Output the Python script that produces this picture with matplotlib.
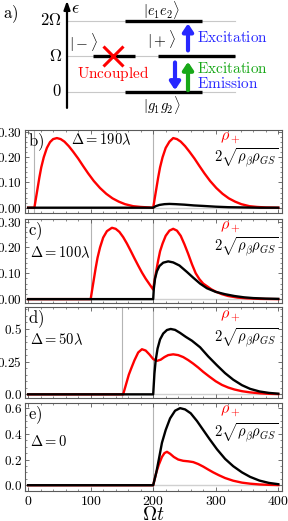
import matplotlib
matplotlib.use("Agg")
import matplotlib.pyplot as plt
from matplotlib.ticker import FixedLocator, MultipleLocator, FixedFormatter

plt.rcParams['mathtext.fontset'] = 'cm'
plt.rcParams['font.family'] = 'DejaVu Serif'

RED = '#ff0000'
BLUE = '#2828ff'
GREEN = '#18a818'
FRAME = '#5a5a5a'
GUIDE = '#b4b4b4'

# ---- data ----
t_switch = 200
deltas = [190, 100, 50, 0]
delta_labels = [r'$\Delta = 190\lambda$', r'$\Delta = 100\lambda$', r'$\Delta = 50\lambda$', r'$\Delta = 0$']
panel_letters = ['b)', 'c)', 'd)', 'e)']

# b) Delta = 190 lambda
t_b_red = [0, 10, 12, 15, 18, 21, 25, 30, 35, 40, 46, 52, 58, 65, 72, 80, 88, 96, 105, 115, 125, 135, 145, 155, 168, 180, 200,
           202, 205, 208, 211, 215, 220, 226, 232, 238, 244, 251, 258, 266, 274, 282, 291, 301, 311, 321, 331, 341, 354, 366, 380, 400]
v_b_red = [0, 0, 0.03, 0.075, 0.12, 0.16, 0.2, 0.237, 0.26, 0.272, 0.276, 0.272, 0.262, 0.244, 0.222, 0.195, 0.165, 0.136, 0.106, 0.078, 0.055, 0.037, 0.024, 0.014, 0.006, 0.003, 0.0,
           0.03, 0.075, 0.12, 0.16, 0.2, 0.237, 0.262, 0.276, 0.272, 0.262, 0.244, 0.222, 0.195, 0.165, 0.136, 0.106, 0.078, 0.055, 0.037, 0.024, 0.014, 0.006, 0.003, 0.001, 0.0]
t_b_blk = [0, 200, 204, 210, 218, 226, 236, 250, 265, 280, 300, 320, 345, 370, 400]
v_b_blk = [0, 0, 0.006, 0.011, 0.014, 0.015, 0.014, 0.012, 0.009, 0.007, 0.004, 0.002, 0.001, 0, 0]

# c) Delta = 100 lambda
t_c_red = [0, 100, 102, 105, 108, 111, 115, 120, 126, 134, 140, 146, 152, 158, 164, 170, 176, 182, 188, 194, 200,
           202, 205, 208, 211, 215, 220, 226, 232, 238, 244, 250, 256, 262, 268, 274, 280, 286, 293, 300, 310, 320, 335, 350, 370, 400]
v_c_red = [0, 0, 0.03, 0.075, 0.12, 0.16, 0.2, 0.238, 0.263, 0.276, 0.272, 0.26, 0.24, 0.215, 0.187, 0.158, 0.13, 0.103, 0.079, 0.058, 0.037,
           0.07, 0.11, 0.15, 0.185, 0.215, 0.245, 0.265, 0.272, 0.265, 0.245, 0.212, 0.175, 0.135, 0.1, 0.077, 0.06, 0.05, 0.038, 0.029, 0.019, 0.012, 0.006, 0.003, 0.001, 0]
t_c_blk = [0, 200, 201, 203, 206, 210, 216, 224, 232, 242, 254, 264, 275, 286, 300, 315, 330, 345, 360, 380, 400]
v_c_blk = [0, 0, 0.04, 0.08, 0.108, 0.128, 0.141, 0.146, 0.142, 0.13, 0.105, 0.083, 0.06, 0.042, 0.028, 0.019, 0.012, 0.007, 0.004, 0.002, 0.001]

# d) Delta = 50 lambda
t_d_red = [0, 152, 155, 158, 161, 165, 170, 176, 182, 188, 194, 200, 206, 212, 218, 224, 232, 240, 248, 256, 264, 272, 280, 290,
           300, 310, 320, 330, 342, 355, 370, 385, 400]
v_d_red = [0, 0, 0.05, 0.1, 0.15, 0.2, 0.26, 0.32, 0.345, 0.335, 0.305, 0.27, 0.256, 0.265, 0.285, 0.3, 0.306, 0.3, 0.285, 0.262, 0.235, 0.205, 0.172, 0.135,
           0.1, 0.072, 0.052, 0.037, 0.024, 0.015, 0.008, 0.004, 0.002]
t_d_blk = [0, 200, 201, 202, 204, 207, 211, 216, 222, 228, 235, 243, 252, 262, 275, 288, 302, 315, 328, 342, 355, 370, 385, 400]
v_d_blk = [0, 0, 0.08, 0.16, 0.26, 0.35, 0.42, 0.465, 0.492, 0.5, 0.493, 0.47, 0.44, 0.41, 0.36, 0.29, 0.222, 0.162, 0.112, 0.07, 0.042, 0.022, 0.011, 0.005]

# e) Delta = 0
t_e_red = [0, 200, 202, 205, 209, 214, 218, 222, 227, 233, 240, 248, 256, 264, 272, 280, 288, 296, 305, 315, 328, 342, 355, 370, 385, 400]
v_e_red = [0, 0, 0.04, 0.1, 0.16, 0.22, 0.25, 0.26, 0.245, 0.22, 0.2, 0.19, 0.186, 0.18, 0.165, 0.145, 0.122, 0.1, 0.078, 0.056, 0.035, 0.02, 0.012, 0.006, 0.003, 0.001]
t_e_blk = [0, 200, 202, 205, 209, 214, 220, 227, 235, 243, 251, 260, 270, 280, 290, 302, 315, 328, 342, 355, 370, 385, 400]
v_e_blk = [0, 0, 0.04, 0.1, 0.2, 0.33, 0.43, 0.52, 0.58, 0.6, 0.59, 0.56, 0.5, 0.43, 0.36, 0.28, 0.205, 0.148, 0.1, 0.065, 0.036, 0.018, 0.008]

red_curves = [(t_b_red, v_b_red), (t_c_red, v_c_red), (t_d_red, v_d_red), (t_e_red, v_e_red)]
black_curves = [(t_b_blk, v_b_blk), (t_c_blk, v_c_blk), (t_d_blk, v_d_blk), (t_e_blk, v_e_blk)]

y_ticks = [[0, 0.1, 0.2, 0.3], [0, 0.1, 0.2, 0.3], [0, 0.25, 0.5], [0, 0.2, 0.4, 0.6]]
y_ticklabels = [['0.00', '0.10', '0.20', '0.30'], ['0.00', '0.10', '0.20', '0.30'], ['0.0', '0.25', '0.5'], ['0.0', '0.2', '0.4', '0.6']]
y_limits = [(-0.021, 0.308), (-0.015, 0.31), (-0.028, 0.668), (-0.045, 0.64)]
y_minor = [0.02, 0.02, 0.05, 0.05]
x_ticks = [0, 100, 200, 300, 400]

# energy diagram (units of Omega)
level_energies = [2, 1, 1, 0]
level_spans = [(125, 202), (93, 135), (158, 235), (125, 202)]
level_labels = [r'$|e_1e_2\rangle$', r'$|-\rangle$', r'$|+\rangle$', r'$|g_1g_2\rangle$']
energy_ticks = [0, 1, 2]
energy_ticklabels = [r'$0$', r'$\Omega$', r'$2\Omega$']

W, H = 288, 521
fig = plt.figure(figsize=(W / 100, H / 100), dpi=100)


def rect(top, bottom, left=25, right=282):
    return [left / W, 1 - bottom / H, (right - left) / W, (bottom - top) / H]


# ---------- panel a ----------
ax = fig.add_axes([0, 1 - 115 / H, 1, 115 / H])
ax.set_xlim(0, W)
ax.set_ylim(-0.65, 2.59)
ax.axis('off')

for e, lab in zip(energy_ticks, energy_ticklabels):
    ax.plot([67, 235], [e, e], color='#c8c8c8', lw=0.8, zorder=1)
    ax.text(62, e, lab, ha='right', va='center', fontsize=12)
ax.annotate('', xy=(67, 2.57), xytext=(67, -0.45),
            arrowprops=dict(arrowstyle='-|>,head_width=0.18,head_length=0.5', lw=1.6, color='k',
                            shrinkA=0, shrinkB=0))
ax.text(71, 2.36, r'$\epsilon$', ha='left', va='center', fontsize=13)
ax.text(3, 2.2, r'$\mathrm{a)}$', ha='left', va='center', fontsize=12)

for e, (x0, x1) in zip(level_energies, level_spans):
    ax.plot([x0, x1], [e, e], color='k', lw=2.4, solid_capstyle='butt', zorder=2)

ax.text(162, 2.3, level_labels[0], ha='center', va='center', fontsize=10.5)
ax.text(84, 1.39, level_labels[1], ha='center', va='center', fontsize=11)
ax.text(162, 1.46, level_labels[2], ha='center', va='center', fontsize=11)
ax.text(162, -0.38, level_labels[3], ha='center', va='center', fontsize=10.5)

ax.plot([113], [1], marker='x', color=RED, markersize=15, mew=2.2, zorder=3)
ax.text(113, 0.53, r'$\mathrm{Uncoupled}$', ha='center', va='center', fontsize=11, color=RED)

arrow_kw = dict(arrowstyle='-|>,head_width=0.3,head_length=0.45', lw=3, shrinkA=0, shrinkB=0)
ax.annotate('', xy=(188, 1.93), xytext=(188, 1.17), arrowprops=dict(color=BLUE, **arrow_kw))
ax.annotate('', xy=(175, 0.05), xytext=(175, 0.83), arrowprops=dict(color=BLUE, **arrow_kw))
ax.annotate('', xy=(188, 0.85), xytext=(188, 0.05), arrowprops=dict(color=GREEN, **arrow_kw))
ax.text(197, 1.52, r'$\mathrm{Excitation}$', ha='left', va='center', fontsize=11, color=BLUE)
ax.text(197, 0.65, r'$\mathrm{Excitation}$', ha='left', va='center', fontsize=11, color=GREEN)
ax.text(197, 0.25, r'$\mathrm{Emission}$', ha='left', va='center', fontsize=11, color=BLUE)

# ---------- panels b-e ----------
frames = [(130, 213), (219, 303), (307, 398), (403, 491)]
delta_pos = [(0.18, 0.88), (0.02, 0.60), (0.02, 0.64), (0.02, 0.56)]

for i in range(4):
    ax = fig.add_axes(rect(*frames[i]))
    ax.set_xlim(-5, 406)
    ax.set_ylim(*y_limits[i])

    ax.axvline(t_switch, color=GUIDE, lw=0.8, zorder=1)
    if deltas[i] > 0:
        ax.axvline(t_switch - deltas[i], color=GUIDE, lw=0.8, zorder=1)
    ax.axhline(0, color='#d0d0d0', lw=1.0, zorder=1)

    ax.plot(red_curves[i][0], red_curves[i][1], color=RED, lw=1.7, zorder=3)
    ax.plot(black_curves[i][0], black_curves[i][1], color='k', lw=1.7, zorder=4)

    ax.xaxis.set_major_locator(FixedLocator(x_ticks))
    ax.xaxis.set_minor_locator(MultipleLocator(20))
    ax.yaxis.set_major_locator(FixedLocator(y_ticks[i]))
    ax.yaxis.set_major_formatter(FixedFormatter(['$%s$' % s for s in y_ticklabels[i]]))
    ax.yaxis.set_minor_locator(MultipleLocator(y_minor[i]))
    ax.tick_params(which='both', direction='in', top=True, right=True, color=FRAME, labelsize=9.5, pad=2)
    ax.tick_params(which='major', length=3, width=0.6)
    ax.tick_params(which='minor', length=1.5, width=0.5)
    for s in ax.spines.values():
        s.set_color(FRAME)
        s.set_linewidth(0.8)

    if i == 3:
        ax.xaxis.set_major_formatter(FixedFormatter(['$%d$' % v for v in x_ticks]))
        ax.tick_params(axis='x', labelsize=10)
        ax.set_xlabel(r'$\Omega t$', fontsize=14, labelpad=-1)
    else:
        ax.set_xticklabels([])

    ax.text(0.01, 0.985, r'$\mathrm{%s}$' % panel_letters[i], transform=ax.transAxes, ha='left', va='top', fontsize=12)
    ax.text(delta_pos[i][0], delta_pos[i][1], delta_labels[i], transform=ax.transAxes, ha='left', va='center', fontsize=10.5)
    ax.text(0.80, 0.91, r'$\rho_+$', transform=ax.transAxes, ha='center', va='center', fontsize=11.5, color=RED)
    ax.text(0.985, 0.66, r'$2\sqrt{\rho_\beta\rho_{GS}}$', transform=ax.transAxes, ha='right', va='center', fontsize=10.5)

fig.savefig('out.png', dpi=100)
